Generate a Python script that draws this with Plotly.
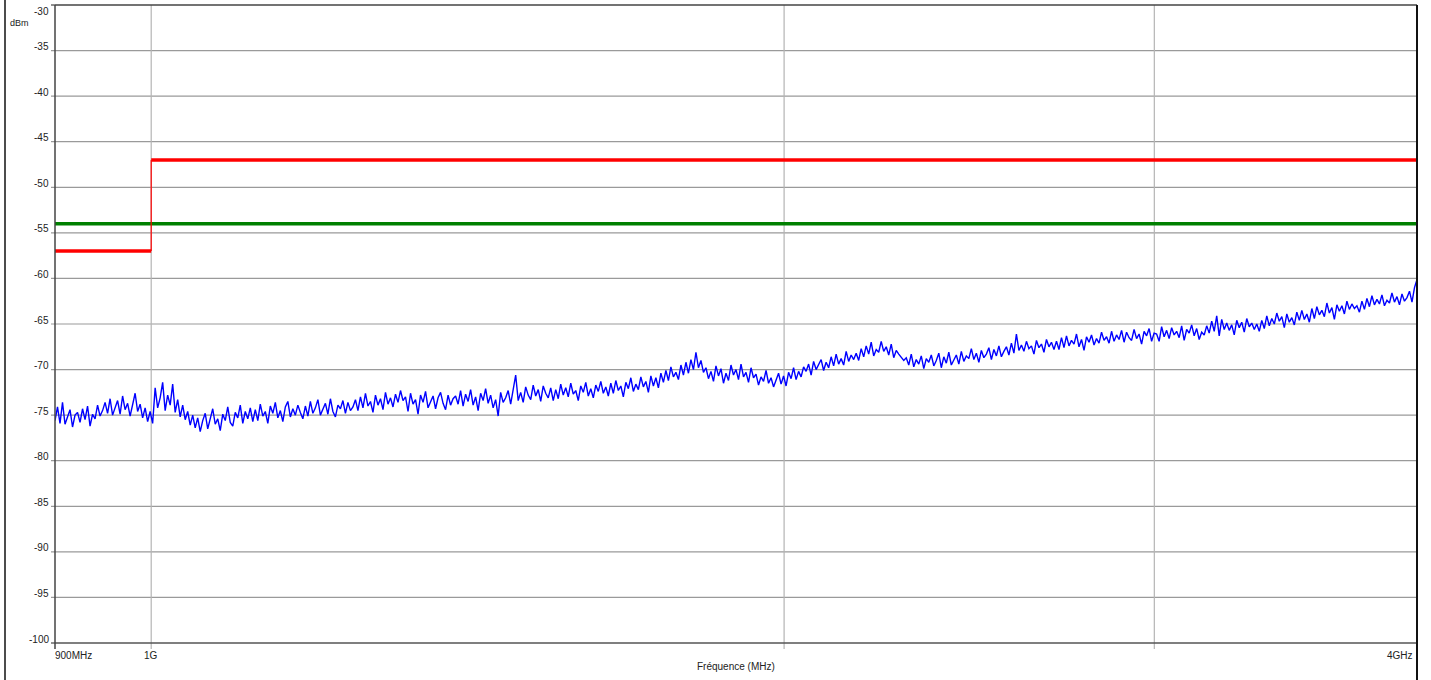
import numpy as np
import plotly.graph_objects as go

# ---- data ----
f_start_mhz = 900
f_stop_mhz = 4000
trace_dbm = [
    -75.6, -74.1, -75.9, -73.6, -76.0, -75.2, -74.4, -76.3, -75.0, -74.7, -75.8, -74.3, -75.5, -74.0, -76.2, -74.9, -75.4, -73.9, -75.1, -74.5,
    -73.6, -74.8, -73.2, -75.0, -74.1, -73.4, -74.9, -72.9, -74.4, -73.7, -75.1, -74.0, -72.6, -74.6, -73.8, -75.3, -74.2, -75.7, -74.6, -75.9,
    -72.0, -74.2, -73.1, -71.4, -74.5, -72.8, -73.9, -71.6, -74.7, -73.3, -75.2, -73.9, -75.5, -74.6, -76.1, -75.0, -76.4, -75.3, -76.8, -75.6,
    -74.8, -76.5, -75.2, -74.3, -76.0, -75.4, -76.7, -74.9, -75.6, -74.1, -75.8, -76.2, -74.7, -75.3, -73.9, -75.9, -74.6, -75.4, -74.2, -75.7,
    -74.4, -75.6, -73.8, -75.1, -74.6, -75.9, -74.0, -74.8, -73.6, -75.3, -74.5, -75.7, -74.1, -73.5, -75.2, -74.3, -75.0, -73.9, -74.7, -75.4,
    -74.0, -75.1, -73.5, -74.8, -74.2, -73.3, -75.0, -74.4, -73.7, -74.9, -73.2, -74.6, -75.2, -73.9, -74.3, -73.4, -74.8, -73.6, -74.5, -74.1,
    -73.3, -74.5, -73.0, -74.2, -72.6, -74.0, -73.5, -74.7, -72.8, -73.9, -73.2, -74.4, -72.5, -73.8, -73.1, -74.1, -72.7, -73.6, -72.3, -73.4,
    -73.0, -74.6, -72.6, -73.8, -73.3, -74.9, -72.8, -73.6, -72.4, -74.2, -73.5, -72.9, -74.3, -73.1, -72.5, -73.7, -74.4, -72.8, -73.9, -73.2,
    -72.9, -73.8, -72.3, -74.0, -72.7, -73.5, -72.2, -73.9, -73.0, -74.5, -72.6, -73.4, -72.1, -73.7, -72.8, -74.2, -73.3, -75.1, -72.5, -73.6,
    -73.1, -72.3, -73.8, -72.0, -70.6, -73.4, -72.5, -73.6, -71.9, -72.8, -73.3, -71.7, -72.9, -72.2, -73.5, -71.8, -72.6, -73.1, -72.0, -73.4,
    -72.2, -73.2, -71.6, -72.8, -72.0, -73.0, -71.5, -72.7, -72.3, -73.4, -71.8, -72.5, -71.4, -72.9, -72.1, -73.1, -71.7, -72.4, -71.3, -72.6,
    -71.9, -72.9, -71.5, -72.6, -71.2, -72.3, -71.8, -73.0, -71.4, -72.1, -70.9, -72.4, -71.6, -72.2, -70.8, -71.9, -71.3, -72.5, -70.7, -71.8,
    -70.9, -72.0, -70.4, -71.4, -70.1, -71.2, -69.7, -70.8, -70.3, -71.1, -69.5, -70.6, -69.2, -70.4, -68.9, -70.0, -68.1, -69.8, -69.0, -70.3,
    -69.8, -71.0, -70.2, -71.3, -69.6, -70.7, -69.9, -71.5, -70.4, -71.2, -69.5, -70.6, -70.0, -71.1, -69.4, -70.8, -70.3, -71.4, -69.8, -70.9,
    -70.5, -71.7, -70.8, -71.3, -70.1, -71.5, -70.9, -71.9, -71.2, -70.4, -71.6, -70.7, -71.8, -70.3, -71.0, -69.8, -71.1, -70.2, -70.8, -69.7,
    -70.2, -69.4, -70.6, -69.1, -70.0, -69.5, -68.9, -70.1, -69.2, -69.8, -68.6, -69.6, -68.3, -69.4, -68.8, -69.5, -68.0, -69.1, -68.4, -68.9,
    -68.2, -69.0, -67.7, -68.6, -67.4, -68.3, -67.0, -68.5, -67.8, -68.1, -66.9, -68.0, -67.5, -68.4, -67.2, -68.7, -67.9, -68.3, -68.6, -69.0,
    -68.7, -69.5, -68.3, -69.7, -68.9, -69.4, -68.5, -69.9, -68.8, -69.2, -68.4, -69.6, -69.0, -68.2, -69.8, -68.6, -69.3, -68.1, -69.5, -68.9,
    -68.4, -69.4, -68.0, -69.1, -68.5, -68.8, -67.7, -68.9, -68.2, -69.2, -67.9, -68.7, -68.3, -67.6, -68.9, -67.8, -68.5, -67.4, -68.6, -68.0,
    -67.5, -68.4, -67.1, -68.2, -66.1, -67.9, -67.3, -68.0, -66.9, -67.7, -67.4, -68.3, -66.8, -67.6, -67.2, -68.1, -66.7, -67.5, -67.0, -67.8,
    -66.9, -67.8, -66.5, -67.6, -66.3, -67.4, -66.8, -67.2, -66.1, -67.5, -66.7, -67.9, -66.4, -67.0, -66.2, -67.3, -66.6, -67.1, -65.9, -66.8,
    -66.4, -67.1, -65.8, -66.9, -66.2, -66.7, -65.7, -67.0, -65.9, -66.5, -66.8, -65.6, -66.6, -66.1, -67.2, -65.8, -66.3, -65.5, -66.9, -66.0,
    -66.1, -66.9, -65.3, -66.4, -65.7, -66.6, -65.4, -66.2, -65.8, -66.5, -65.2, -66.8, -65.6, -66.0, -65.1, -66.3, -65.5, -66.7, -65.9, -66.2,
    -65.2, -66.0, -64.7, -65.8, -64.1, -66.3, -64.5, -65.6, -64.9, -65.7, -65.1, -66.2, -64.6, -65.4, -64.8, -65.9, -64.4, -65.3, -64.9, -65.6,
    -65.0, -65.8, -64.6, -65.5, -64.1, -65.2, -64.4, -65.0, -63.8, -64.7, -64.2, -65.4, -63.9, -64.8, -64.3, -65.1, -63.7, -64.6, -63.5, -64.5,
    -63.9, -64.8, -63.3, -64.4, -63.1, -64.0, -63.5, -64.2, -62.7, -63.8, -63.2, -64.5, -62.9, -63.6, -63.0, -63.9, -62.5, -63.4, -62.8, -63.3,
    -63.0, -63.7, -62.5, -63.4, -62.2, -63.1, -61.9, -62.9, -62.3, -62.8, -61.8, -63.0, -62.4, -62.7, -61.6, -62.6, -62.0, -62.9, -61.7, -62.5,
    -62.1, -61.4, -62.6, -61.0, -60.1,
]
limit_red_freq = [900, 1000, 1000, 4000]
limit_red_dbm = [-57, -57, -47, -47]
limit_green_freq = [900, 4000]
limit_green_dbm = [-54, -54]
y_ticks = [-30, -35, -40, -45, -50, -55, -60, -65, -70, -75, -80, -85, -90, -95, -100]
x_grid = [1000, 2000, 3000]
x_tick_labels = [(900, "900MHz"), (1000, "1G"), (4000, "4GHz")]

freqs = np.geomspace(f_start_mhz, f_stop_mhz, len(trace_dbm))

FONT = "Liberation Sans, Arial, sans-serif"
fig = go.Figure()

fig.add_trace(go.Scatter(x=freqs, y=trace_dbm, mode="lines",
                         line=dict(color="#0000ff", width=1.4), hoverinfo="skip"))
fig.add_trace(go.Scatter(x=limit_green_freq, y=limit_green_dbm, mode="lines",
                         line=dict(color="#008000", width=3.5)))
fig.add_trace(go.Scatter(x=[limit_red_freq[0], limit_red_freq[1], None, limit_red_freq[2], limit_red_freq[3]],
                         y=[limit_red_dbm[0], limit_red_dbm[1], None, limit_red_dbm[2], limit_red_dbm[3]],
                         mode="lines", line=dict(color="#ff0000", width=3.5)))
fig.add_trace(go.Scatter(x=[limit_red_freq[1], limit_red_freq[2]], y=[limit_red_dbm[1], limit_red_dbm[2]],
                         mode="lines", line=dict(color="#ff0000", width=1.2)))

annotations = []
for v in y_ticks:
    annotations.append(dict(x=0, xref="paper", y=v, yref="y", text=str(v), showarrow=False,
                            xanchor="right", yanchor="middle", xshift=-4,
                            yshift=(-6 if v == -30 else 4),
                            font=dict(family=FONT, size=10, color="#222")))
for f, t in x_tick_labels:
    anchor = "left" if f == 900 else ("right" if f == 4000 else "center")
    xs = -2 if f in (900, 4000) else 0
    annotations.append(dict(x=np.log10(f), xref="x", y=0, yref="paper", text=t, showarrow=False,
                            xanchor=anchor, yanchor="top", xshift=xs, yshift=-5,
                            font=dict(family=FONT, size=10, color="#222")))
annotations.append(dict(x=0.5, xref="paper", y=0, yref="paper", text="Fréquence (MHz)", showarrow=False,
                        xanchor="center", yanchor="top", yshift=-16,
                        font=dict(family=FONT, size=10, color="#222")))
annotations.append(dict(x=-0.0345, xref="paper", y=-30, yref="y", text="dBm", showarrow=False,
                        xanchor="left", yanchor="middle", yshift=-18,
                        font=dict(family=FONT, size=9, color="#222")))

H = 638.0
W = 1362.0
shapes = [
    *[dict(type="line", xref="paper", x0=-4 / W, x1=1, yref="y", y0=v, y1=v,
           line=dict(color="#9a9a9a", width=1.2), layer="below") for v in y_ticks[1:-1]],
    *[dict(type="line", xref="x", x0=f, x1=f, yref="paper", y0=-6 / H, y1=1,
           line=dict(color="#b4b4b4", width=1.2), layer="below") for f in x_grid],
    dict(type="line", xref="paper", x0=0, x1=1, yref="paper", y0=1, y1=1, line=dict(color="#444", width=1.5)),
    dict(type="line", xref="paper", x0=0, x1=1, yref="paper", y0=0, y1=0, line=dict(color="#555", width=1.5)),
    dict(type="line", xref="paper", x0=0, x1=0, yref="paper", y0=-6 / H, y1=1, line=dict(color="#444", width=1.5)),
    dict(type="line", xref="paper", x0=1, x1=1, yref="paper", y0=-40 / H, y1=1, line=dict(color="#111", width=2)),
    dict(type="line", xref="paper", x0=-4 / W, x1=0, yref="paper", y0=0, y1=0, line=dict(color="#444", width=1.2)),
    dict(type="line", xref="paper", x0=-4 / W, x1=0, yref="paper", y0=1, y1=1, line=dict(color="#444", width=1.2)),
    dict(type="line", xref="paper", x0=-50 / W, x1=-50 / W, yref="paper", y0=-40 / H, y1=1 + 8 / H,
         line=dict(color="#111", width=1.5)),
]

fig.update_layout(
    width=1431, height=680,
    margin=dict(l=55, r=14, t=5, b=37),
    paper_bgcolor="white", plot_bgcolor="white",
    showlegend=False,
    xaxis=dict(type="log", range=[np.log10(f_start_mhz), np.log10(f_stop_mhz)],
               showgrid=False, showticklabels=False, ticks="", zeroline=False, showline=False),
    yaxis=dict(range=[-100, -30], showgrid=False, showticklabels=False, ticks="", zeroline=False,
               showline=False),
    annotations=annotations,
    shapes=shapes,
)

fig.write_html("out.html", config={"displayModeBar": False},
               post_script="document.body.style.margin='0px';")
